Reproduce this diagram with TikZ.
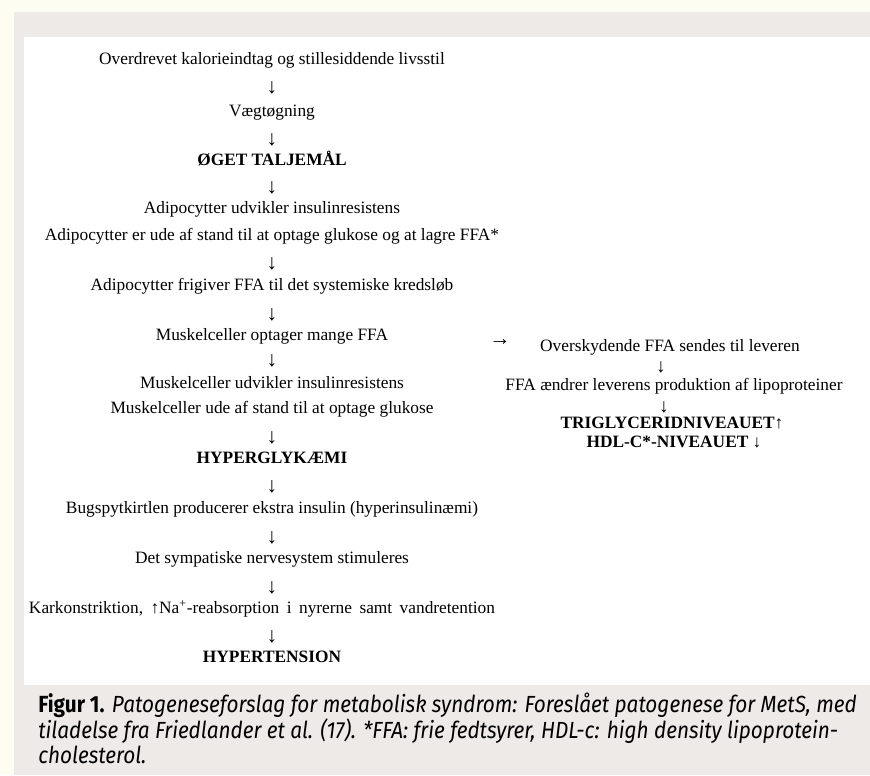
\documentclass[tikz,border=0pt]{standalone}
\usepackage{fontspec}
\setmainfont{Liberation Serif}
\newfontfamily\capfont[FakeStretch=0.89]{Fira Sans}
\definecolor{bgyellow}{HTML}{FDFDF1}
\definecolor{panelgray}{HTML}{EDEAE8}
\begin{document}
\begin{tikzpicture}[x=0.75pt,y=-0.75pt,
  txt/.style={font=\fontsize{13}{15}\selectfont, inner sep=0pt, anchor=base},
  bold/.style={txt, font=\fontsize{13}{15}\selectfont\bfseries},
  arr/.style={font=\fontsize{16}{18}\selectfont, inner sep=0pt, anchor=center},
  captxt/.style={font=\capfont\fontsize{17.5}{20}\selectfont, inner sep=0pt, anchor=base west}]
\useasboundingbox (0,0) rectangle (870,775);
\fill[bgyellow] (0,0) rectangle (870,775);
\fill[panelgray] (14,12) rectangle (870,775);
\fill[white] (24,37) rectangle (870,685);
% left column
\def\cx{272}
\node[txt] (n1) at (\cx,64) {Overdrevet kalorieindtag og stillesiddende livsstil};
\node[arr] (a1) at (\cx,88) {↓};
\node[txt] (n2) at (\cx,116) {Vægtøgning};
\node[arr] (a2) at (\cx,140) {↓};
\node[bold] (n3) at (\cx,165) {ØGET TALJEMÅL};
\node[arr] (a3) at (\cx,188) {↓};
\node[txt] (n4) at (\cx,213) {Adipocytter udvikler insulinresistens};
\node[txt] (n5) at (\cx,240) {Adipocytter er ude af stand til at optage glukose og at lagre FFA*};
\node[arr] (a4) at (\cx,264) {↓};
\node[txt] (n6) at (\cx,290) {Adipocytter frigiver FFA til det systemiske kredsløb};
\node[arr] (a5) at (\cx,315) {↓};
\node[txt] (n7) at (\cx,340) {Muskelceller optager mange FFA};
\node[arr] (a6) at (\cx,361) {↓};
\node[txt] (n8) at (\cx,388) {Muskelceller udvikler insulinresistens};
\node[txt] (n9) at (\cx,413) {Muskelceller ude af stand til at optage glukose};
\node[arr] (a7) at (\cx,438) {↓};
\node[bold] (n10) at (\cx,463) {HYPERGLYKÆMI};
\node[arr] (a8) at (\cx,487) {↓};
\node[txt] (n11) at (\cx,513) {Bugspytkirtlen producerer ekstra insulin (hyperinsulinæmi)};
\node[arr] (a9) at (\cx,538) {↓};
\node[txt] (n12) at (\cx,563) {Det sympatiske nervesystem stimuleres};
\node[arr] (a10) at (\cx,588) {↓};
\node[txt] (n13) at (262,613) {\spaceskip=5.6pt Karkonstriktion, ↑Na\textsuperscript{+}-reabsorption i nyrerne samt vandretention};
\node[arr] (a11) at (\cx,637) {↓};
\node[bold] (n14) at (\cx,662) {HYPERTENSION};
% right column
\node[arr] (r0) at (500,342) {→};
\node[txt] (m1) at (670,351) {Overskydende FFA sendes til leveren};
\node[arr, font=\fontsize{14.5}{16}\selectfont] (r1) at (661,367) {↓};
\node[txt] (m2) at (674,390) {FFA ændrer leverens produktion af lipoproteiner};
\node[arr, font=\fontsize{14.5}{16}\selectfont] (r2) at (664,407) {↓};
\node[bold] (m3) at (672,428) {TRIGLYCERIDNIVEAUET↑};
\node[bold] (m4) at (674,447) {HDL-C*-NIVEAUET ↓};
% caption
\node[captxt] (c1) at (38,712) {{\bfseries Figur 1.} \itshape Patogeneseforslag for metabolisk syndrom: Foreslået patogenese for MetS, med};
\node[captxt] (c2) at (38,738) {\itshape tiladelse fra Friedlander et al. (17). *FFA: frie fedtsyrer, HDL-c: high density lipoprotein-};
\node[captxt] (c3) at (38,763) {\itshape cholesterol.};
\end{tikzpicture}
\end{document}
